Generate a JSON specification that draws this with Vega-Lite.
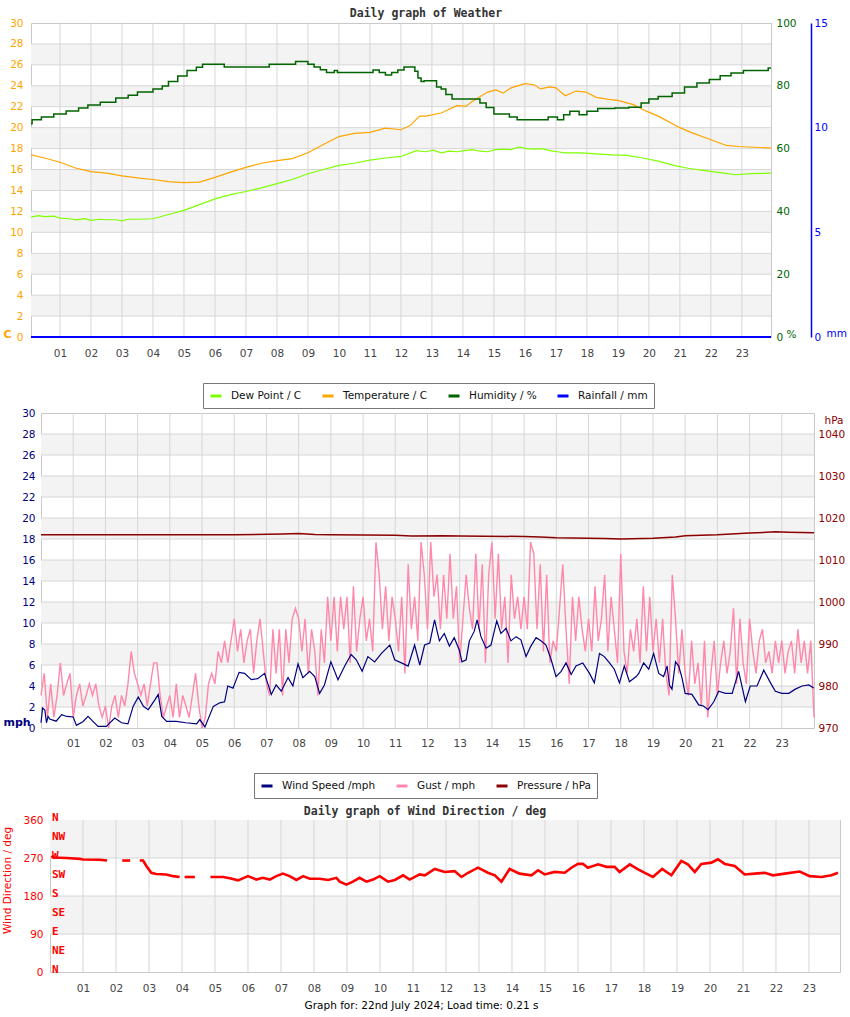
{
"$schema": "https://vega.github.io/schema/vega-lite/v6.json",
"background": "white",
"padding": {"left": 1, "top": 7, "right": 0, "bottom": 0},
"datasets": {
"empty": [],
"hours": [{"h":1},{"h":2},{"h":3},{"h":4},{"h":5},{"h":6},{"h":7},{"h":8},{"h":9},{"h":10},{"h":11},{"h":12},{"h":13},{"h":14},{"h":15},{"h":16},{"h":17},{"h":18},{"h":19},{"h":20},{"h":21},{"h":22},{"h":23}],
"band30": [{"a":2,"b":4},{"a":6,"b":8},{"a":10,"b":12},{"a":14,"b":16},{"a":18,"b":20},{"a":22,"b":24},{"a":26,"b":28}],
"grid30": [{"v":2},{"v":4},{"v":6},{"v":8},{"v":10},{"v":12},{"v":14},{"v":16},{"v":18},{"v":20},{"v":22},{"v":24},{"v":26},{"v":28}],
"band360": [{"a":90,"b":180},{"a":270,"b":360}],
"grid360": [{"v":90},{"v":180},{"v":270}],
"compass": [{"d":360,"t":"N"},{"d":315,"t":"NW"},{"d":270,"t":"W"},{"d":225,"t":"SW"},{"d":180,"t":"S"},{"d":135,"t":"SE"},{"d":90,"t":"E"},{"d":45,"t":"NE"},{"d":0,"t":"N"}],
"temp": [{"h":0.065,"v":17.4},{"h":0.5,"v":17.1},{"h":1,"v":16.7},{"h":1.5,"v":16.15},{"h":2,"v":15.8},{"h":2.5,"v":15.65},{"h":3,"v":15.4},{"h":3.5,"v":15.2},{"h":4,"v":15.05},{"h":4.5,"v":14.85},{"h":5,"v":14.75},{"h":5.5,"v":14.8},{"h":6,"v":15.25},{"h":6.5,"v":15.75},{"h":7,"v":16.2},{"h":7.5,"v":16.6},{"h":8,"v":16.85},{"h":8.5,"v":17.05},{"h":9,"v":17.6},{"h":9.5,"v":18.4},{"h":10,"v":19.15},{"h":10.5,"v":19.45},{"h":11,"v":19.55},{"h":11.5,"v":19.95},{"h":12,"v":19.8},{"h":12.3,"v":20.2},{"h":12.6,"v":21.1},{"h":12.8,"v":21.1},{"h":13.3,"v":21.4},{"h":13.8,"v":22.1},{"h":14.1,"v":22.05},{"h":14.3,"v":22.5},{"h":14.8,"v":23.4},{"h":15.06,"v":23.6},{"h":15.3,"v":23.3},{"h":15.55,"v":23.8},{"h":16,"v":24.2},{"h":16.3,"v":24.1},{"h":16.5,"v":23.7},{"h":16.8,"v":23.9},{"h":17,"v":23.8},{"h":17.3,"v":23.05},{"h":17.65,"v":23.5},{"h":17.97,"v":23.4},{"h":18.3,"v":22.9},{"h":18.7,"v":22.7},{"h":19,"v":22.6},{"h":19.5,"v":22.2},{"h":19.9,"v":21.6},{"h":20.3,"v":21.1},{"h":21,"v":20.0},{"h":21.4,"v":19.5},{"h":22,"v":18.85},{"h":22.5,"v":18.3},{"h":22.9,"v":18.2},{"h":23.94,"v":18.05}],
"dew": [{"h":0.065,"v":11.45},{"h":0.3,"v":11.6},{"h":0.5,"v":11.5},{"h":0.8,"v":11.55},{"h":1,"v":11.35},{"h":1.3,"v":11.3},{"h":1.5,"v":11.2},{"h":1.8,"v":11.3},{"h":2,"v":11.15},{"h":2.3,"v":11.25},{"h":2.5,"v":11.2},{"h":2.8,"v":11.2},{"h":3,"v":11.1},{"h":3.2,"v":11.25},{"h":3.5,"v":11.25},{"h":4,"v":11.3},{"h":4.5,"v":11.7},{"h":5,"v":12.1},{"h":5.5,"v":12.65},{"h":6,"v":13.2},{"h":6.5,"v":13.6},{"h":7,"v":13.9},{"h":7.5,"v":14.25},{"h":8,"v":14.65},{"h":8.5,"v":15.05},{"h":9,"v":15.6},{"h":9.5,"v":16.0},{"h":10,"v":16.4},{"h":10.5,"v":16.6},{"h":11,"v":16.9},{"h":11.5,"v":17.1},{"h":12,"v":17.25},{"h":12.5,"v":17.8},{"h":12.8,"v":17.7},{"h":13.05,"v":17.85},{"h":13.3,"v":17.6},{"h":13.55,"v":17.75},{"h":13.8,"v":17.7},{"h":14.05,"v":17.8},{"h":14.3,"v":17.9},{"h":14.55,"v":17.75},{"h":14.8,"v":17.7},{"h":15.05,"v":17.9},{"h":15.3,"v":17.95},{"h":15.55,"v":17.9},{"h":15.8,"v":18.15},{"h":16.05,"v":18.0},{"h":16.3,"v":17.95},{"h":16.55,"v":18.0},{"h":16.8,"v":17.8},{"h":17.05,"v":17.7},{"h":17.3,"v":17.6},{"h":17.8,"v":17.6},{"h":18.3,"v":17.5},{"h":18.8,"v":17.4},{"h":19.3,"v":17.35},{"h":19.8,"v":17.1},{"h":20.3,"v":16.8},{"h":20.8,"v":16.4},{"h":21.3,"v":16.1},{"h":21.8,"v":15.9},{"h":22.3,"v":15.7},{"h":22.8,"v":15.5},{"h":23.3,"v":15.6},{"h":23.94,"v":15.65}],
"hum": [{"h":0.065,"v":67.9},{"h":0.1,"v":69.2},{"h":0.4,"v":70.1},{"h":0.8,"v":71.0},{"h":1.2,"v":72.0},{"h":1.6,"v":72.9},{"h":1.9,"v":73.9},{"h":2.3,"v":74.8},{"h":2.8,"v":76.1},{"h":3.2,"v":77.0},{"h":3.5,"v":78.0},{"h":4.0,"v":79.0},{"h":4.3,"v":79.9},{"h":4.5,"v":81.4},{"h":4.8,"v":83.1},{"h":5.1,"v":84.9},{"h":5.4,"v":85.9},{"h":5.6,"v":86.9},{"h":6.3,"v":86.0},{"h":7.75,"v":86.9},{"h":8.6,"v":87.7},{"h":9.0,"v":86.9},{"h":9.2,"v":86.0},{"h":9.4,"v":85.1},{"h":9.6,"v":84.2},{"h":9.85,"v":84.9},{"h":9.95,"v":84.2},{"h":11.1,"v":85.0},{"h":11.3,"v":84.2},{"h":11.5,"v":83.4},{"h":11.7,"v":84.2},{"h":11.9,"v":85.0},{"h":12.1,"v":86.0},{"h":12.45,"v":84.6},{"h":12.55,"v":82.5},{"h":12.65,"v":81.4},{"h":12.75,"v":81.6},{"h":13.15,"v":79.6},{"h":13.3,"v":79.0},{"h":13.45,"v":77.2},{"h":13.65,"v":75.8},{"h":14.55,"v":74.5},{"h":14.75,"v":73.1},{"h":15.0,"v":71.0},{"h":15.5,"v":70.1},{"h":15.75,"v":69.2},{"h":16.75,"v":70.1},{"h":17.05,"v":69.2},{"h":17.25,"v":70.8},{"h":17.45,"v":71.9},{"h":17.75,"v":70.8},{"h":18.0,"v":71.9},{"h":18.35,"v":72.8},{"h":18.9,"v":72.9},{"h":19.35,"v":73.2},{"h":19.75,"v":74.5},{"h":20.0,"v":75.8},{"h":20.3,"v":76.6},{"h":20.75,"v":77.7},{"h":21.15,"v":79.6},{"h":21.55,"v":80.9},{"h":21.95,"v":82.0},{"h":22.3,"v":83.2},{"h":22.65,"v":84.1},{"h":23.05,"v":84.9},{"h":23.85,"v":85.7},{"h":23.94,"v":85.7}],
"rain": [{"h":0.065,"v":0},{"h":23.94,"v":0}],
"speed": [{"h":0.0,"v":0.5},{"h":0.05,"v":1.9},{"h":0.12,"v":1.7},{"h":0.17,"v":0.5},{"h":0.22,"v":1.1},{"h":0.27,"v":0.86},{"h":0.47,"v":0.65},{"h":0.64,"v":1.27},{"h":0.8,"v":1.1},{"h":1.0,"v":1.05},{"h":1.1,"v":0.25},{"h":1.3,"v":0.6},{"h":1.46,"v":1.1},{"h":1.62,"v":0.6},{"h":1.77,"v":0.15},{"h":2.03,"v":0.15},{"h":2.29,"v":0.95},{"h":2.5,"v":0.5},{"h":2.7,"v":0.4},{"h":2.86,"v":2.06},{"h":3.02,"v":2.95},{"h":3.18,"v":2.06},{"h":3.33,"v":1.75},{"h":3.54,"v":2.7},{"h":3.64,"v":3.2},{"h":3.75,"v":1.1},{"h":3.9,"v":0.63},{"h":4.2,"v":0.63},{"h":4.5,"v":0.5},{"h":4.83,"v":0.4},{"h":4.93,"v":0.8},{"h":5.09,"v":0.1},{"h":5.35,"v":2.06},{"h":5.55,"v":2.4},{"h":5.7,"v":2.5},{"h":5.8,"v":4.0},{"h":5.96,"v":3.8},{"h":6.15,"v":5.3},{"h":6.32,"v":5.2},{"h":6.53,"v":4.6},{"h":6.73,"v":4.7},{"h":6.94,"v":5.2},{"h":7.15,"v":3.2},{"h":7.3,"v":4.1},{"h":7.46,"v":3.5},{"h":7.67,"v":4.8},{"h":7.82,"v":4.0},{"h":7.98,"v":6.1},{"h":8.13,"v":4.8},{"h":8.34,"v":5.4},{"h":8.5,"v":4.9},{"h":8.65,"v":3.3},{"h":8.8,"v":4.1},{"h":9.0,"v":6.3},{"h":9.22,"v":4.6},{"h":9.43,"v":5.9},{"h":9.63,"v":7.0},{"h":9.79,"v":6.5},{"h":9.97,"v":5.4},{"h":10.15,"v":6.8},{"h":10.36,"v":6.3},{"h":10.57,"v":7.1},{"h":10.83,"v":7.9},{"h":10.98,"v":6.5},{"h":11.19,"v":6.2},{"h":11.4,"v":5.9},{"h":11.6,"v":7.9},{"h":11.76,"v":6.0},{"h":11.91,"v":7.9},{"h":12.07,"v":8.1},{"h":12.22,"v":10.3},{"h":12.3,"v":9.2},{"h":12.37,"v":8.3},{"h":12.52,"v":9.0},{"h":12.68,"v":7.8},{"h":12.83,"v":8.6},{"h":12.99,"v":7.4},{"h":13.07,"v":6.3},{"h":13.2,"v":6.5},{"h":13.3,"v":8.3},{"h":13.45,"v":9.2},{"h":13.54,"v":10.3},{"h":13.66,"v":8.7},{"h":13.82,"v":7.6},{"h":13.97,"v":7.9},{"h":14.15,"v":10.2},{"h":14.28,"v":9.0},{"h":14.44,"v":9.5},{"h":14.59,"v":8.3},{"h":14.75,"v":8.7},{"h":14.9,"v":8.4},{"h":15.06,"v":6.8},{"h":15.21,"v":7.8},{"h":15.37,"v":8.6},{"h":15.52,"v":8.3},{"h":15.68,"v":7.9},{"h":15.84,"v":6.5},{"h":15.99,"v":4.9},{"h":16.15,"v":5.4},{"h":16.3,"v":6.2},{"h":16.46,"v":5.1},{"h":16.61,"v":5.9},{"h":16.82,"v":6.2},{"h":17.03,"v":5.2},{"h":17.18,"v":4.3},{"h":17.34,"v":7.1},{"h":17.49,"v":6.8},{"h":17.65,"v":6.2},{"h":17.8,"v":5.6},{"h":17.96,"v":4.3},{"h":18.11,"v":5.9},{"h":18.27,"v":4.4},{"h":18.48,"v":4.9},{"h":18.56,"v":5.2},{"h":18.71,"v":6.2},{"h":18.87,"v":5.6},{"h":19.02,"v":7.1},{"h":19.18,"v":5.2},{"h":19.33,"v":4.9},{"h":19.44,"v":5.9},{"h":19.51,"v":4.1},{"h":19.59,"v":3.7},{"h":19.7,"v":6.3},{"h":19.8,"v":5.9},{"h":19.9,"v":4.8},{"h":20.0,"v":3.3},{"h":20.21,"v":3.2},{"h":20.42,"v":2.2},{"h":20.57,"v":2.1},{"h":20.71,"v":1.75},{"h":20.89,"v":2.5},{"h":21.04,"v":3.5},{"h":21.25,"v":3.3},{"h":21.46,"v":3.3},{"h":21.66,"v":5.4},{"h":21.87,"v":2.5},{"h":22.02,"v":4.0},{"h":22.23,"v":4.0},{"h":22.44,"v":5.5},{"h":22.65,"v":4.3},{"h":22.8,"v":3.5},{"h":23.0,"v":3.3},{"h":23.22,"v":3.3},{"h":23.42,"v":3.7},{"h":23.63,"v":4.0},{"h":23.84,"v":4.1},{"h":23.99,"v":3.8}],
"gust": [{"h":0.0,"v":3.1},{"h":0.1,"v":5.2},{"h":0.2,"v":1.0},{"h":0.3,"v":4.2},{"h":0.4,"v":1.0},{"h":0.5,"v":3.1},{"h":0.6,"v":6.2},{"h":0.7,"v":3.1},{"h":0.8,"v":4.2},{"h":0.9,"v":5.2},
{"h":1.0,"v":1.0},{"h":1.1,"v":3.1},{"h":1.2,"v":4.2},{"h":1.3,"v":2.1},{"h":1.4,"v":3.1},{"h":1.5,"v":4.2},{"h":1.6,"v":3.1},{"h":1.7,"v":4.2},{"h":1.8,"v":2.1},{"h":1.9,"v":1.0},
{"h":2.0,"v":2.1},{"h":2.1,"v":0},{"h":2.2,"v":2.1},{"h":2.3,"v":3.1},{"h":2.4,"v":1.0},{"h":2.5,"v":3.1},{"h":2.6,"v":2.1},{"h":2.7,"v":4.2},{"h":2.8,"v":7.3},{"h":2.9,"v":5.2},
{"h":3.0,"v":4.2},{"h":3.1,"v":3.1},{"h":3.2,"v":4.2},{"h":3.3,"v":2.1},{"h":3.4,"v":4.2},{"h":3.5,"v":6.2},{"h":3.6,"v":6.2},{"h":3.7,"v":3.1},{"h":3.8,"v":1.0},{"h":3.9,"v":2.1},
{"h":4.0,"v":3.1},{"h":4.1,"v":1.0},{"h":4.2,"v":4.2},{"h":4.3,"v":1.0},{"h":4.4,"v":3.1},{"h":4.5,"v":2.1},{"h":4.6,"v":1.0},{"h":4.7,"v":3.1},{"h":4.8,"v":5.2},{"h":4.9,"v":2.1},
{"h":5.0,"v":0},{"h":5.1,"v":1.0},{"h":5.2,"v":4.2},{"h":5.3,"v":5.2},{"h":5.4,"v":4.2},{"h":5.5,"v":7.3},{"h":5.6,"v":6.2},{"h":5.7,"v":8.3},{"h":5.8,"v":6.2},{"h":5.9,"v":8.3},
{"h":6.0,"v":10.4},{"h":6.1,"v":7.3},{"h":6.2,"v":9.4},{"h":6.3,"v":6.2},{"h":6.4,"v":8.3},{"h":6.5,"v":9.4},{"h":6.6,"v":5.2},{"h":6.7,"v":8.3},{"h":6.8,"v":10.4},{"h":6.9,"v":7.3},
{"h":7.0,"v":4.2},{"h":7.1,"v":3.1},{"h":7.2,"v":9.4},{"h":7.3,"v":5.2},{"h":7.4,"v":9.4},{"h":7.5,"v":3.1},{"h":7.6,"v":9.4},{"h":7.7,"v":6.2},{"h":7.8,"v":10.4},{"h":7.9,"v":11.4},
{"h":8.0,"v":10.4},{"h":8.1,"v":7.3},{"h":8.2,"v":10.4},{"h":8.3,"v":5.2},{"h":8.4,"v":9.4},{"h":8.5,"v":7.3},{"h":8.6,"v":3.1},{"h":8.7,"v":9.4},{"h":8.8,"v":6.2},{"h":8.9,"v":12.5},
{"h":9.0,"v":8.3},{"h":9.1,"v":12.5},{"h":9.2,"v":7.3},{"h":9.3,"v":12.5},{"h":9.4,"v":9.4},{"h":9.5,"v":12.5},{"h":9.6,"v":6.2},{"h":9.7,"v":13.5},{"h":9.8,"v":7.3},{"h":9.9,"v":10.4},
{"h":10.0,"v":12.5},{"h":10.1,"v":8.3},{"h":10.2,"v":10.4},{"h":10.3,"v":7.3},{"h":10.4,"v":17.7},{"h":10.5,"v":14.6},{"h":10.6,"v":9.4},{"h":10.7,"v":13.5},{"h":10.8,"v":8.3},{"h":10.9,"v":12.5},
{"h":11.0,"v":10.4},{"h":11.1,"v":7.3},{"h":11.2,"v":12.5},{"h":11.3,"v":5.2},{"h":11.4,"v":15.6},{"h":11.5,"v":9.4},{"h":11.6,"v":12.5},{"h":11.7,"v":8.3},{"h":11.8,"v":17.7},{"h":11.9,"v":14.6},
{"h":12.0,"v":9.4},{"h":12.1,"v":17.7},{"h":12.2,"v":12.5},{"h":12.3,"v":14.6},{"h":12.4,"v":9.4},{"h":12.5,"v":14.6},{"h":12.6,"v":10.4},{"h":12.7,"v":16.6},{"h":12.8,"v":10.4},{"h":12.9,"v":13.5},
{"h":13.0,"v":6.2},{"h":13.1,"v":10.4},{"h":13.2,"v":14.6},{"h":13.3,"v":11.4},{"h":13.4,"v":9.4},{"h":13.5,"v":16.6},{"h":13.6,"v":9.4},{"h":13.7,"v":15.6},{"h":13.8,"v":6.2},{"h":13.9,"v":14.6},
{"h":14.0,"v":17.7},{"h":14.1,"v":10.4},{"h":14.2,"v":16.6},{"h":14.3,"v":9.4},{"h":14.4,"v":12.5},{"h":14.5,"v":6.2},{"h":14.6,"v":14.6},{"h":14.7,"v":10.4},{"h":14.8,"v":12.5},{"h":14.9,"v":9.4},
{"h":15.0,"v":12.5},{"h":15.1,"v":9.4},{"h":15.2,"v":17.7},{"h":15.3,"v":16.6},{"h":15.4,"v":9.4},{"h":15.5,"v":15.6},{"h":15.6,"v":7.3},{"h":15.7,"v":14.6},{"h":15.8,"v":6.2},{"h":15.9,"v":8.3},
{"h":16.0,"v":7.3},{"h":16.1,"v":11.4},{"h":16.2,"v":15.6},{"h":16.3,"v":9.4},{"h":16.4,"v":4.2},{"h":16.5,"v":12.5},{"h":16.6,"v":8.3},{"h":16.7,"v":12.5},{"h":16.8,"v":9.4},{"h":16.9,"v":7.3},
{"h":17.0,"v":10.4},{"h":17.1,"v":7.3},{"h":17.2,"v":13.5},{"h":17.3,"v":8.3},{"h":17.4,"v":10.4},{"h":17.5,"v":14.6},{"h":17.6,"v":7.3},{"h":17.7,"v":12.5},{"h":17.8,"v":9.4},{"h":17.9,"v":6.2},
{"h":18.0,"v":16.6},{"h":18.1,"v":7.3},{"h":18.2,"v":5.2},{"h":18.3,"v":9.4},{"h":18.4,"v":7.3},{"h":18.5,"v":10.4},{"h":18.6,"v":6.2},{"h":18.7,"v":13.5},{"h":18.8,"v":7.3},{"h":18.9,"v":12.5},
{"h":19.0,"v":7.3},{"h":19.1,"v":10.4},{"h":19.2,"v":6.2},{"h":19.3,"v":10.4},{"h":19.4,"v":5.2},{"h":19.5,"v":3.1},{"h":19.6,"v":14.6},{"h":19.7,"v":10.4},{"h":19.8,"v":5.2},{"h":19.9,"v":9.4},
{"h":20.0,"v":5.2},{"h":20.1,"v":3.1},{"h":20.2,"v":8.3},{"h":20.3,"v":4.2},{"h":20.4,"v":6.2},{"h":20.5,"v":2.1},{"h":20.6,"v":8.3},{"h":20.7,"v":1.0},{"h":20.8,"v":5.2},{"h":20.9,"v":8.3},
{"h":21.0,"v":3.1},{"h":21.1,"v":6.2},{"h":21.2,"v":8.3},{"h":21.3,"v":5.2},{"h":21.4,"v":7.3},{"h":21.5,"v":11.4},{"h":21.6,"v":4.2},{"h":21.7,"v":10.4},{"h":21.8,"v":6.2},{"h":21.9,"v":4.2},
{"h":22.0,"v":10.4},{"h":22.1,"v":7.3},{"h":22.2,"v":5.2},{"h":22.3,"v":8.3},{"h":22.4,"v":9.4},{"h":22.5,"v":6.2},{"h":22.6,"v":7.3},{"h":22.7,"v":5.2},{"h":22.8,"v":8.3},{"h":22.9,"v":6.2},
{"h":23.0,"v":8.3},{"h":23.1,"v":5.2},{"h":23.2,"v":7.3},{"h":23.3,"v":8.3},{"h":23.4,"v":5.2},{"h":23.5,"v":9.4},{"h":23.6,"v":6.2},{"h":23.7,"v":8.3},{"h":23.8,"v":5.2},{"h":23.9,"v":8.3},{"h":24.0,"v":1.0}],
"pres": [{"h":0,"v":1016.0},{"h":3,"v":1016.0},{"h":6,"v":1016.0},{"h":7.5,"v":1016.2},{"h":8.0,"v":1016.3},{"h":8.5,"v":1016.1},{"h":9,"v":1016.0},{"h":11,"v":1015.9},{"h":11.5,"v":1015.7},{"h":12.5,"v":1015.8},{"h":13,"v":1015.7},{"h":15,"v":1015.6},{"h":15.5,"v":1015.5},{"h":16,"v":1015.3},{"h":17,"v":1015.2},{"h":17.5,"v":1015.1},{"h":18,"v":1015.0},{"h":19,"v":1015.2},{"h":19.7,"v":1015.5},{"h":20,"v":1015.8},{"h":21,"v":1016.0},{"h":22,"v":1016.4},{"h":22.8,"v":1016.7},{"h":23.2,"v":1016.6},{"h":24,"v":1016.5}],
"dir": [{"s":1,"h":0.04,"v":275},{"s":1,"h":0.1,"v":271},{"s":1,"h":0.5,"v":270},{"s":1,"h":0.9,"v":268},{"s":1,"h":1.0,"v":266.6},{"s":1,"h":1.5,"v":265.8},{"s":1,"h":1.73,"v":264},
{"s":2,"h":2.19,"v":264},{"s":2,"h":2.43,"v":264},
{"s":3,"h":2.72,"v":264},{"s":3,"h":2.82,"v":264},{"s":3,"h":2.92,"v":251},{"s":3,"h":3.07,"v":235},{"s":3,"h":3.22,"v":232},{"s":3,"h":3.52,"v":231},{"s":3,"h":3.73,"v":227},{"s":3,"h":3.93,"v":225},
{"s":4,"h":4.08,"v":225},{"s":4,"h":4.39,"v":225},
{"s":5,"h":4.86,"v":225},{"s":5,"h":5.14,"v":225},{"s":5,"h":5.25,"v":225},{"s":5,"h":5.45,"v":222},{"s":5,"h":5.7,"v":217},{"s":5,"h":6.0,"v":227},{"s":5,"h":6.25,"v":219},{"s":5,"h":6.45,"v":223},{"s":5,"h":6.66,"v":219},{"s":5,"h":6.86,"v":227},{"s":5,"h":7.06,"v":233},{"s":5,"h":7.26,"v":227},{"s":5,"h":7.47,"v":218},{"s":5,"h":7.67,"v":227},{"s":5,"h":7.87,"v":221},{"s":5,"h":8.17,"v":221},{"s":5,"h":8.43,"v":218},{"s":5,"h":8.68,"v":223},{"s":5,"h":8.78,"v":214},{"s":5,"h":8.98,"v":207},{"s":5,"h":9.18,"v":214},{"s":5,"h":9.38,"v":223},{"s":5,"h":9.59,"v":214},{"s":5,"h":9.79,"v":219},{"s":5,"h":9.99,"v":227},{"s":5,"h":10.24,"v":214},{"s":5,"h":10.45,"v":218},{"s":5,"h":10.7,"v":229},{"s":5,"h":10.9,"v":219},{"s":5,"h":11.2,"v":231},{"s":5,"h":11.36,"v":229},{"s":5,"h":11.66,"v":244},{"s":5,"h":11.96,"v":237},{"s":5,"h":12.26,"v":239},{"s":5,"h":12.47,"v":225},{"s":5,"h":12.67,"v":235},{"s":5,"h":12.97,"v":247},{"s":5,"h":13.27,"v":235},{"s":5,"h":13.48,"v":229},{"s":5,"h":13.68,"v":214},{"s":5,"h":13.93,"v":244},{"s":5,"h":14.23,"v":233},{"s":5,"h":14.59,"v":229},{"s":5,"h":14.79,"v":241},{"s":5,"h":14.99,"v":231},{"s":5,"h":15.29,"v":237},{"s":5,"h":15.6,"v":235},{"s":5,"h":15.8,"v":247},{"s":5,"h":16.0,"v":256},{"s":5,"h":16.15,"v":256},{"s":5,"h":16.3,"v":247},{"s":5,"h":16.61,"v":255},{"s":5,"h":16.86,"v":249},{"s":5,"h":17.11,"v":249},{"s":5,"h":17.26,"v":237},{"s":5,"h":17.57,"v":255},{"s":5,"h":17.82,"v":243},{"s":5,"h":18.07,"v":233},{"s":5,"h":18.27,"v":225},{"s":5,"h":18.55,"v":244},{"s":5,"h":18.83,"v":229},{"s":5,"h":19.13,"v":263},{"s":5,"h":19.33,"v":255},{"s":5,"h":19.54,"v":237},{"s":5,"h":19.74,"v":256},{"s":5,"h":20.04,"v":259},{"s":5,"h":20.24,"v":267},{"s":5,"h":20.45,"v":256},{"s":5,"h":20.75,"v":251},{"s":5,"h":21.05,"v":231},{"s":5,"h":21.36,"v":233},{"s":5,"h":21.66,"v":235},{"s":5,"h":21.91,"v":229},{"s":5,"h":22.26,"v":233},{"s":5,"h":22.72,"v":238},{"s":5,"h":23.02,"v":227},{"s":5,"h":23.38,"v":225},{"s":5,"h":23.68,"v":229},{"s":5,"h":23.88,"v":235}]
},
"vconcat": [
{
"vconcat": [
{
"hconcat": [
{"width": 1, "height": 1, "view": {"stroke": null}, "data": {"name": "empty"}, "mark": "point"},
{
"width": 740, "height": 314,
"title": {"text": "Daily graph of Weather", "offset": -1, "dx": 25, "frame": "group"},
"layer": [
 {"layer": [
  {"data": {"name": "band30"}, "mark": {"type": "rect", "color": "#f3f3f3"},
   "encoding": {"y": {"field": "a", "type": "quantitative", "scale": {"domain": [0, 30], "nice": false}, "title": "C",
     "axis": {"values": [0,2,4,6,8,10,12,14,16,18,20,22,24,26,28,30], "labelOverlap": false, "labelColor": "#ffa500", "labelPadding": 8, "titleColor": "#ffa500", "titleFontWeight": "bold", "titleFontSize": 11, "titleAngle": 0, "titleX": -28, "titleY": 314, "titleAlign": "left", "titleBaseline": "alphabetic"}},
    "y2": {"field": "b"}}},
  {"data": {"name": "grid30"}, "mark": {"type": "rule", "color": "#d6d6d6"},
   "encoding": {"y": {"field": "v", "type": "quantitative", "title": "C",
     "axis": {"values": [0,2,4,6,8,10,12,14,16,18,20,22,24,26,28,30], "labelOverlap": false, "labelColor": "#ffa500", "labelPadding": 8, "titleColor": "#ffa500", "titleFontWeight": "bold", "titleFontSize": 11, "titleAngle": 0, "titleX": -28, "titleY": 314, "titleAlign": "left", "titleBaseline": "alphabetic"}}}},
  {"data": {"name": "hours"}, "mark": {"type": "rule", "color": "#d6d6d6"},
   "encoding": {"x": {"field": "h", "type": "quantitative", "scale": {"domain": [0.065, 23.94], "nice": false, "zero": false}, "title": null,
     "axis": {"values": [1,2,3,4,5,6,7,8,9,10,11,12,13,14,15,16,17,18,19,20,21,22,23], "labelOverlap": false, "labelExpr": "datum.value < 10 ? '0' + datum.value : '' + datum.value", "labelPadding": 11, "labelColor": "#444444"}}}},
  {"data": {"name": "temp"}, "mark": {"type": "line", "strokeWidth": 1.2},
   "encoding": {"x": {"field": "h", "type": "quantitative", "title": null,
     "axis": {"values": [1,2,3,4,5,6,7,8,9,10,11,12,13,14,15,16,17,18,19,20,21,22,23], "labelOverlap": false, "labelExpr": "datum.value < 10 ? '0' + datum.value : '' + datum.value", "labelPadding": 11, "labelColor": "#444444"}},
    "y": {"field": "v", "type": "quantitative", "title": "C",
     "axis": {"values": [0,2,4,6,8,10,12,14,16,18,20,22,24,26,28,30], "labelOverlap": false, "labelColor": "#ffa500", "labelPadding": 8, "titleColor": "#ffa500", "titleFontWeight": "bold", "titleFontSize": 11, "titleAngle": 0, "titleX": -28, "titleY": 314, "titleAlign": "left", "titleBaseline": "alphabetic"}},
    "color": {"datum": "Temperature / C", "scale": {"domain": ["Dew Point / C", "Temperature / C", "Humidity / %", "Rainfall / mm"], "range": ["#7fff00", "#ffa500", "#006400", "#0000ff"]},
      "legend": {"orient": "none", "legendX": 172, "legendY": 360, "title": null}}}},
  {"data": {"name": "dew"}, "mark": {"type": "line", "strokeWidth": 1.2},
   "encoding": {"x": {"field": "h", "type": "quantitative", "title": null,
     "axis": {"values": [1,2,3,4,5,6,7,8,9,10,11,12,13,14,15,16,17,18,19,20,21,22,23], "labelOverlap": false, "labelExpr": "datum.value < 10 ? '0' + datum.value : '' + datum.value", "labelPadding": 11, "labelColor": "#444444"}},
    "y": {"field": "v", "type": "quantitative", "title": "C",
     "axis": {"values": [0,2,4,6,8,10,12,14,16,18,20,22,24,26,28,30], "labelOverlap": false, "labelColor": "#ffa500", "labelPadding": 8, "titleColor": "#ffa500", "titleFontWeight": "bold", "titleFontSize": 11, "titleAngle": 0, "titleX": -28, "titleY": 314, "titleAlign": "left", "titleBaseline": "alphabetic"}},
    "color": {"datum": "Dew Point / C"}}}
 ]},
 {"data": {"name": "hum"}, "mark": {"type": "line", "interpolate": "step-after", "strokeWidth": 1.5},
  "encoding": {"x": {"field": "h", "type": "quantitative", "title": null,
     "axis": {"values": [1,2,3,4,5,6,7,8,9,10,11,12,13,14,15,16,17,18,19,20,21,22,23], "labelOverlap": false, "labelExpr": "datum.value < 10 ? '0' + datum.value : '' + datum.value", "labelPadding": 11, "labelColor": "#444444"}},
   "y": {"field": "v", "type": "quantitative", "scale": {"domain": [0, 100], "nice": false}, "title": "%",
     "axis": {"orient": "right", "values": [0,20,40,60,80,100], "labelOverlap": false, "labelColor": "#006400", "labelPadding": 5, "titleColor": "#006400", "titleAngle": 0, "titleX": 15, "titleY": 314, "titleAlign": "left", "titleBaseline": "alphabetic"}},
   "color": {"datum": "Humidity / %"}}},
 {"data": {"name": "rain"}, "mark": {"type": "line", "strokeWidth": 2},
  "encoding": {"x": {"field": "h", "type": "quantitative", "title": null,
     "axis": {"values": [1,2,3,4,5,6,7,8,9,10,11,12,13,14,15,16,17,18,19,20,21,22,23], "labelOverlap": false, "labelExpr": "datum.value < 10 ? '0' + datum.value : '' + datum.value", "labelPadding": 11, "labelColor": "#444444"}},
   "y": {"field": "v", "type": "quantitative", "scale": {"domain": [0, 15], "nice": false}, "title": "mm",
     "axis": {"orient": "right", "offset": 40, "domain": true, "domainColor": "#0000ff", "domainWidth": 1.5, "values": [0,5,10,15], "labelOverlap": false, "labelColor": "#0000ff", "labelPadding": 3, "titleColor": "#0000ff", "titleAngle": 0, "titleX": 15, "titleY": 313, "titleAlign": "left", "titleBaseline": "alphabetic"}},
   "color": {"datum": "Rainfall / mm"}}}
],
"resolve": {"scale": {"y": "independent"}}
}
],
"spacing": 0,
"resolve": {"scale": {"color": "independent"}, "legend": {"color": "independent"}}
},
{
"hconcat": [
{"width": 1, "height": 1, "view": {"stroke": null}, "data": {"name": "empty"}, "mark": "point"},
{
"width": 773, "height": 315,
"layer": [
 {"layer": [
  {"data": {"name": "band30"}, "mark": {"type": "rect", "color": "#f3f3f3"},
   "encoding": {"y": {"field": "a", "type": "quantitative", "scale": {"domain": [0, 30], "nice": false}, "title": "mph",
     "axis": {"values": [0,2,4,6,8,10,12,14,16,18,20,22,24,26,28,30], "labelOverlap": false, "labelColor": "#000080", "labelPadding": 6, "titleColor": "#000080", "titleFontWeight": "bold", "titleFontSize": 11, "titleAngle": 0, "titleX": -38, "titleY": 312, "titleAlign": "left", "titleBaseline": "alphabetic"}},
    "y2": {"field": "b"}}},
  {"data": {"name": "grid30"}, "mark": {"type": "rule", "color": "#d6d6d6"},
   "encoding": {"y": {"field": "v", "type": "quantitative", "title": "mph",
     "axis": {"values": [0,2,4,6,8,10,12,14,16,18,20,22,24,26,28,30], "labelOverlap": false, "labelColor": "#000080", "labelPadding": 6, "titleColor": "#000080", "titleFontWeight": "bold", "titleFontSize": 11, "titleAngle": 0, "titleX": -38, "titleY": 312, "titleAlign": "left", "titleBaseline": "alphabetic"}}}},
  {"data": {"name": "hours"}, "mark": {"type": "rule", "color": "#d6d6d6"},
   "encoding": {"x": {"field": "h", "type": "quantitative", "scale": {"domain": [0, 24], "nice": false, "zero": false}, "title": null,
     "axis": {"values": [1,2,3,4,5,6,7,8,9,10,11,12,13,14,15,16,17,18,19,20,21,22,23], "labelOverlap": false, "labelExpr": "datum.value < 10 ? '0' + datum.value : '' + datum.value", "labelPadding": 10, "labelColor": "#444444"}}}},
  {"data": {"name": "gust"}, "mark": {"type": "line", "strokeWidth": 1.4},
   "encoding": {"x": {"field": "h", "type": "quantitative", "title": null,
     "axis": {"values": [1,2,3,4,5,6,7,8,9,10,11,12,13,14,15,16,17,18,19,20,21,22,23], "labelOverlap": false, "labelExpr": "datum.value < 10 ? '0' + datum.value : '' + datum.value", "labelPadding": 10, "labelColor": "#444444"}},
    "y": {"field": "v", "type": "quantitative", "title": "mph",
     "axis": {"values": [0,2,4,6,8,10,12,14,16,18,20,22,24,26,28,30], "labelOverlap": false, "labelColor": "#000080", "labelPadding": 6, "titleColor": "#000080", "titleFontWeight": "bold", "titleFontSize": 11, "titleAngle": 0, "titleX": -38, "titleY": 312, "titleAlign": "left", "titleBaseline": "alphabetic"}},
    "color": {"datum": "Gust / mph", "scale": {"domain": ["Wind Speed /mph", "Gust / mph", "Pressure / hPa"], "range": ["#000080", "#ff88aa", "#8b0000"]},
      "legend": {"orient": "none", "legendX": 213, "legendY": 360, "title": null}}}},
  {"data": {"name": "speed"}, "mark": {"type": "line", "strokeWidth": 1.2},
   "encoding": {"x": {"field": "h", "type": "quantitative", "title": null,
     "axis": {"values": [1,2,3,4,5,6,7,8,9,10,11,12,13,14,15,16,17,18,19,20,21,22,23], "labelOverlap": false, "labelExpr": "datum.value < 10 ? '0' + datum.value : '' + datum.value", "labelPadding": 10, "labelColor": "#444444"}},
    "y": {"field": "v", "type": "quantitative", "title": "mph",
     "axis": {"values": [0,2,4,6,8,10,12,14,16,18,20,22,24,26,28,30], "labelOverlap": false, "labelColor": "#000080", "labelPadding": 6, "titleColor": "#000080", "titleFontWeight": "bold", "titleFontSize": 11, "titleAngle": 0, "titleX": -38, "titleY": 312, "titleAlign": "left", "titleBaseline": "alphabetic"}},
    "color": {"datum": "Wind Speed /mph"}}}
 ]},
 {"data": {"name": "pres"}, "mark": {"type": "line", "strokeWidth": 1.5},
  "encoding": {"x": {"field": "h", "type": "quantitative", "title": null,
     "axis": {"values": [1,2,3,4,5,6,7,8,9,10,11,12,13,14,15,16,17,18,19,20,21,22,23], "labelOverlap": false, "labelExpr": "datum.value < 10 ? '0' + datum.value : '' + datum.value", "labelPadding": 10, "labelColor": "#444444"}},
   "y": {"field": "v", "type": "quantitative", "scale": {"domain": [970, 1045], "nice": false, "zero": false}, "title": "hPa",
     "axis": {"orient": "right", "values": [970,980,990,1000,1010,1020,1030,1040], "format": "d", "labelOverlap": false, "labelColor": "#8b0000", "labelPadding": 4, "titleColor": "#8b0000", "titleAngle": 0, "titleX": 10, "titleY": 10, "titleAlign": "left", "titleBaseline": "alphabetic"}},
   "color": {"datum": "Pressure / hPa"}}}
],
"resolve": {"scale": {"y": "independent"}}
}
],
"spacing": 0,
"resolve": {"scale": {"color": "independent"}, "legend": {"color": "independent"}}
}
],
"spacing": -2,
"resolve": {"scale": {"color": "independent"}, "legend": {"color": "independent"}}
},
{
"hconcat": [
{"width": 1, "height": 1, "view": {"stroke": null}, "data": {"name": "empty"}, "mark": "point"},
{
"width": 790, "height": 152,
"title": {"text": "Daily graph of Wind Direction / deg", "offset": -5, "dx": -20, "frame": "group"},
"layer": [
 {"data": {"name": "band360"}, "mark": {"type": "rect", "color": "#f3f3f3"},
  "encoding": {"y": {"field": "a", "type": "quantitative", "scale": {"domain": [0, 360], "nice": false}, "title": "Wind Direction / deg",
    "axis": {"values": [0,90,180,270,360], "labelOverlap": false, "labelColor": "#ff0000", "labelPadding": 7, "titleColor": "#ff0000", "titleX": -37.5, "titleY": 60, "titleAngle": 270, "titleAlign": "center", "titleBaseline": "bottom"}},
   "y2": {"field": "b"}}},
 {"data": {"name": "grid360"}, "mark": {"type": "rule", "color": "#d6d6d6"},
  "encoding": {"y": {"field": "v", "type": "quantitative", "title": "Wind Direction / deg",
    "axis": {"values": [0,90,180,270,360], "labelOverlap": false, "labelColor": "#ff0000", "labelPadding": 7, "titleColor": "#ff0000", "titleX": -37.5, "titleY": 60, "titleAngle": 270, "titleAlign": "center", "titleBaseline": "bottom"}}}},
 {"data": {"name": "hours"}, "mark": {"type": "rule", "color": "#d6d6d6"},
  "encoding": {"x": {"field": "h", "type": "quantitative", "scale": {"domain": [0, 23.94], "nice": false, "zero": false}, "title": "Graph for: 22nd July 2024; Load time: 0.21 s",
    "axis": {"values": [1,2,3,4,5,6,7,8,9,10,11,12,13,14,15,16,17,18,19,20,21,22,23], "labelOverlap": false, "labelExpr": "datum.value < 10 ? '0' + datum.value : '' + datum.value", "labelPadding": 11, "labelColor": "#444444", "titleX": 371, "titleY": 36, "titleAlign": "center", "titleBaseline": "alphabetic", "titleColor": "#000000"}}}},
 {"data": {"name": "dir"}, "mark": {"type": "line", "strokeWidth": 2.6, "color": "#ff0000"},
  "encoding": {"x": {"field": "h", "type": "quantitative", "title": "Graph for: 22nd July 2024; Load time: 0.21 s",
    "axis": {"values": [1,2,3,4,5,6,7,8,9,10,11,12,13,14,15,16,17,18,19,20,21,22,23], "labelOverlap": false, "labelExpr": "datum.value < 10 ? '0' + datum.value : '' + datum.value", "labelPadding": 11, "labelColor": "#444444", "titleX": 371, "titleY": 36, "titleAlign": "center", "titleBaseline": "alphabetic", "titleColor": "#000000"}},
   "y": {"field": "v", "type": "quantitative", "title": "Wind Direction / deg",
    "axis": {"values": [0,90,180,270,360], "labelOverlap": false, "labelColor": "#ff0000", "labelPadding": 7, "titleColor": "#ff0000", "titleX": -37.5, "titleY": 60, "titleAngle": 270, "titleAlign": "center", "titleBaseline": "bottom"}},
   "detail": {"field": "s"}}},
 {"data": {"name": "compass"}, "mark": {"type": "text", "align": "left", "baseline": "middle", "dx": 2, "dy": -2, "font": "DejaVu Sans Mono", "fontWeight": "bold", "fontSize": 11, "color": "#ff0000"},
  "encoding": {"x": {"datum": 0, "type": "quantitative", "title": "Graph for: 22nd July 2024; Load time: 0.21 s",
    "axis": {"values": [1,2,3,4,5,6,7,8,9,10,11,12,13,14,15,16,17,18,19,20,21,22,23], "labelOverlap": false, "labelExpr": "datum.value < 10 ? '0' + datum.value : '' + datum.value", "labelPadding": 11, "labelColor": "#444444", "titleX": 371, "titleY": 36, "titleAlign": "center", "titleBaseline": "alphabetic", "titleColor": "#000000"}},
   "y": {"field": "d", "type": "quantitative", "title": "Wind Direction / deg",
    "axis": {"values": [0,90,180,270,360], "labelOverlap": false, "labelColor": "#ff0000", "labelPadding": 7, "titleColor": "#ff0000", "titleX": -37.5, "titleY": 60, "titleAngle": 270, "titleAlign": "center", "titleBaseline": "bottom"}},
   "text": {"field": "t"}}}
]
}
],
"spacing": 0
}
],
"spacing": 6,
"resolve": {"scale": {"color": "independent"}, "legend": {"color": "independent"}},
"config": {
 "view": {"stroke": "#c8c8c8", "strokeWidth": 1},
 "font": "DejaVu Sans",
 "axis": {"grid": false, "ticks": false, "domain": false, "labelFont": "DejaVu Sans", "labelFontSize": 10.5, "titleFont": "DejaVu Sans", "titleFontSize": 10.5, "titleFontWeight": "normal", "labelOverlap": false, "labelBound": false, "labelFlush": false},
 "title": {"font": "DejaVu Sans Mono", "fontSize": 11.5, "fontWeight": "bold", "color": "#333333", "anchor": "middle", "baseline": "bottom"},
 "legend": {"strokeColor": "#777777", "fillColor": "#ffffff", "padding": 6, "labelFont": "DejaVu Sans", "labelFontSize": 10.5, "labelColor": "#111111", "symbolStrokeWidth": 3, "symbolSize": 121, "columnPadding": 14, "labelOffset": 8, "direction": "horizontal", "symbolType": "stroke"}
}
}
